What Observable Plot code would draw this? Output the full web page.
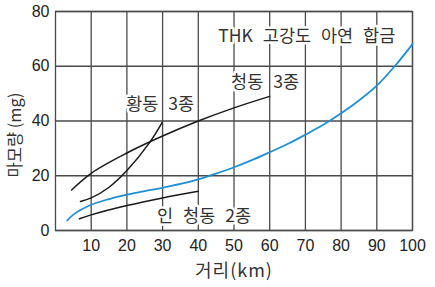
<!DOCTYPE html>
<html>
<head>
<meta charset="utf-8">
<script src="https://cdn.jsdelivr.net/npm/d3@7"></script>
<script src="https://cdn.jsdelivr.net/npm/@observablehq/plot@0.6"></script>
<style>
  body { margin: 0; background: #fff; }
  svg { font-family: "Liberation Sans", "Noto Sans CJK KR", sans-serif; }
</style>
</head>
<body>
<div id="chart"></div>
<script>
const thkX = [3.3, 5, 10, 15, 20, 25, 30, 35, 40, 45, 50, 55, 60, 65, 70, 75, 80, 85, 90, 95, 100];
const thkY = [3.65, 5.8, 9.4, 11.5, 13.1, 14.4, 15.6, 17, 18.7, 20.8, 23.1, 25.7, 28.6, 31.6, 35, 38.6, 42.8, 47.5, 52.9, 60, 68.1];

const bronze3X = [4.5, 10, 20, 30, 40, 50, 60];
const bronze3Y = [14.8, 20.9, 28.3, 34.5, 40, 44.8, 49];

const brass3X = [7, 10, 15, 20, 26.4, 29.9];
const brass3Y = [10.6, 11.9, 15.8, 21.9, 32.2, 39.5];

const phos2X = [6.7, 10, 20, 30, 40];
const phos2Y = [4.3, 5.7, 9.1, 11.9, 14.3];

const labelText = ["THK 고강도 아연 합금", "청동 3종", "황동 3종", "인 청동 2종"];
const labelX = [70.4, 58.7, 29.3, 41.6];
const labelY = [70.8, 54, 46, 5.1];

const xTicks = [10, 20, 30, 40, 50, 60, 70, 80, 90, 100];
const yTicks = [0, 20, 40, 60, 80];

const toRows = (xs, ys) => xs.map((x, i) => ({x, y: ys[i]}));
const labels = labelText.map((t, i) => ({t, x: labelX[i], y: labelY[i]}));

const gridColor = "#4a4a4a";
const kr = "'Noto Sans CJK KR', sans-serif";
const chart = Plot.plot({
  width: 435,
  height: 287,
  marginLeft: 55,
  marginRight: 23,
  marginTop: 11,
  marginBottom: 57,
  style: {fontSize: "16px", color: "#222", background: "#fff"},
  x: {domain: [0, 100], ticks: xTicks, tickSize: 0, tickPadding: 8, label: null},
  y: {domain: [0, 80], ticks: yTicks, tickSize: 0, tickPadding: 6, label: null},
  marks: [
    Plot.ruleX(xTicks, {stroke: gridColor, strokeWidth: 1.3}),
    Plot.ruleY(yTicks, {stroke: gridColor, strokeWidth: 1.3}),
    Plot.frame({stroke: gridColor, strokeWidth: 1.3}),
    Plot.line(toRows(bronze3X, bronze3Y), {x: "x", y: "y", curve: "catmull-rom", stroke: "#1a1a1a", strokeWidth: 1.5}),
    Plot.line(toRows(brass3X, brass3Y), {x: "x", y: "y", curve: "catmull-rom", stroke: "#1a1a1a", strokeWidth: 1.5}),
    Plot.line(toRows(phos2X, phos2Y), {x: "x", y: "y", curve: "catmull-rom", stroke: "#1a1a1a", strokeWidth: 1.5}),
    Plot.line(toRows(thkX, thkY), {x: "x", y: "y", curve: "catmull-rom", stroke: "#1f8fd8", strokeWidth: 1.8}),
    Plot.text(labels, {x: "x", y: "y", text: "t", fontSize: 17.5, fill: "#333", stroke: "white", strokeWidth: 5, fontFamily: kr}),
    Plot.axisX({ticks: xTicks, tickSize: 0, tickPadding: 9, fontSize: 16, label: null}),
    Plot.axisY({ticks: yTicks, tickSize: 0, tickPadding: 6, fontSize: 16, label: null}),
    Plot.text(["거리(km)"], {frameAnchor: "bottom", dy: 46, fontSize: 18, fill: "#333", fontFamily: kr}),
    Plot.text(["마모량 (mg)"], {frameAnchor: "left", textAnchor: "middle", rotate: -90, dx: -40, dy: 14, fontSize: 16.5, fill: "#333", fontFamily: kr})
  ]
});
d3.select(chart).selectAll("text")
  .filter(function() { return labelText.includes(this.textContent); })
  .style("word-spacing", "6px");
d3.select(chart).selectAll("text")
  .filter(function() { return this.textContent === "거리(km)"; })
  .style("letter-spacing", "1px");
document.getElementById("chart").appendChild(chart);
</script>
</body>
</html>
